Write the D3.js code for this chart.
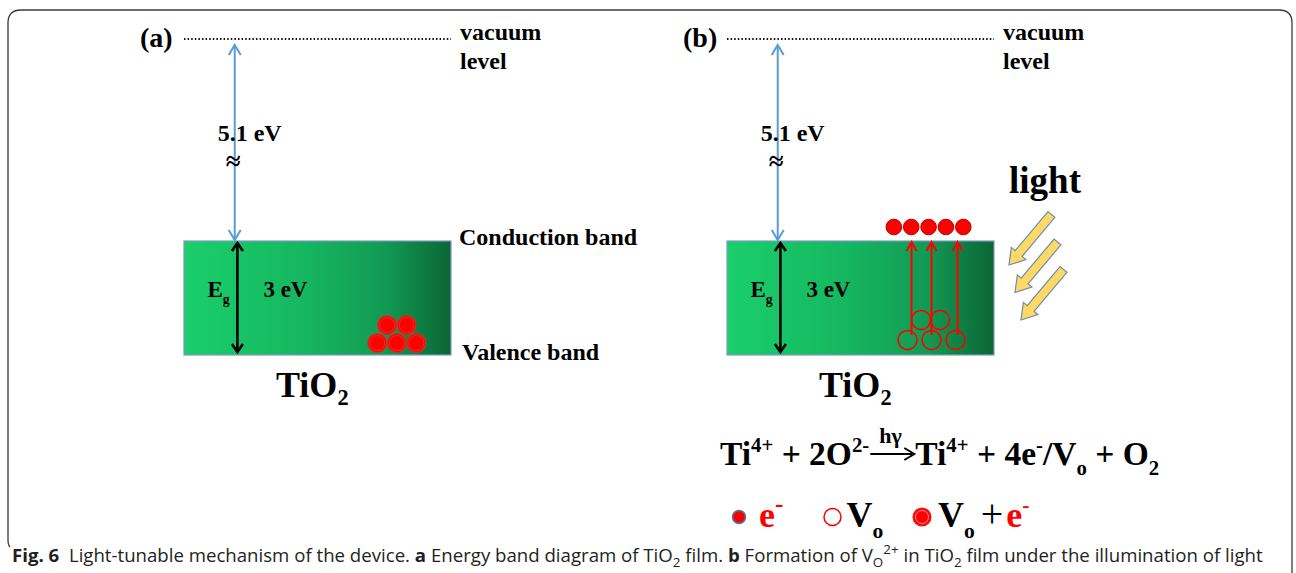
<!DOCTYPE html>
<html><head><meta charset="utf-8">
<script src="https://cdn.jsdelivr.net/npm/d3@7"></script>
<style>body{margin:0;background:#fff}svg{display:block}text{white-space:pre}</style>
</head><body><svg id="c" width="1296" height="573"></svg>
<script>
// ---------------- data ----------------
const panels = ["(a)", "(b)"];
const energyLevels = [0, -5.1, -8.1];           // vacuum, conduction band, valence band (eV)
const vacuumLabel = ["vacuum", "level"];
const bandLabels = ["Conduction band", "Valence band"];
const workFunctionLabel = "5.1 eV";
const bandGapLabel = "3 eV";
const materialLabel = "TiO";
const lightLabel = "light";
const clusterRows = [2, 3];                      // stacked circles: top row, bottom row
const electronsB = [1, 2, 3, 4, 5];              // excited electrons in (b)
const excitedFrom = [0, 1, 2];                   // bottom-row vacancies with arrows
const lightRays = [0, 1, 2];
const eqLeft = [["Ti"], ["4+", "sup"], [" + 2O"], ["2-", "sup"]];
const eqRight = [["Ti"], ["4+", "sup"], [" + 4e"], ["-", "sup"], ["/V"], ["o", "sub"], [" + O"], ["2", "sub"]];
const eqArrowLabel = "h\u03b3";
const legendItems = ["e", "Vo", "Vo+e"];
const caption = [
  ["Fig. 6", null, "bold"], ["  Light-tunable mechanism of the device. "], ["a", null, "bold"],
  [" Energy band diagram of TiO"], ["2", "sub"], [" film. "], ["b", null, "bold"],
  [" Formation of V"], ["O", "sub"], ["2+", "sup"], [" in TiO"], ["2", "sub"],
  [" film under the illumination of light"]
];

// ---------------- setup ----------------
const svg = d3.select("#c");
const SERIF = "'Liberation Serif','Times New Roman',serif";
const defs = svg.append("defs");
const grad = defs.append("linearGradient").attr("id", "g").attr("x1", 0).attr("x2", 1).attr("y1", 0).attr("y2", 0);
[[0, "#1ACF6C"], [0.45, "#16B660"], [0.75, "#129A54"], [1, "#0B6634"]].forEach(([o, c]) =>
  grad.append("stop").attr("offset", o).attr("stop-color", c));

// energy scale (piecewise, broken between vacuum and conduction band)
const yE = d3.scaleLinear().domain(energyLevels).range([39, 241, 355]);

// rich text helper
function rich(g, x, y, parts, size, opts = {}) {
  const t = g.append("text").attr("x", x).attr("y", y)
    .attr("font-family", opts.family || SERIF).attr("font-size", size)
    .attr("font-weight", opts.weight || "bold").attr("fill", opts.fill || "#000");
  let cur = 0;
  parts.forEach(p => {
    const kind = p[1];
    const target = kind === "sub" ? size * (opts.subShift || 0.28) : kind === "sup" ? -size * (opts.supShift || 0.42) : 0;
    const ts = t.append("tspan").text(p[0]).attr("dy", target - cur);
    cur = target;
    if (kind) ts.attr("font-size", size * (opts.scriptScale || 0.62));
    if (p[2]) ts.attr("font-weight", p[2]);
    if (p[3]) ts.attr("fill", p[3]);
    if (p[4]) ts.attr("dx", p[4]);
    if (p[5]) ts.attr("font-size", p[5]);
  });
  return t;
}
function chevron(g, x, y, dir, hw, len, color, sw) {
  g.append("path").attr("d", `M${x - hw},${y - dir * len}L${x},${y}L${x + hw},${y - dir * len}`)
    .attr("fill", "none").attr("stroke", color).attr("stroke-width", sw)
    .attr("stroke-linejoin", "miter");
}

// frame
svg.append("path")
  .attr("d", "M10,547 Q8,545 8,540 L8,23 Q8,10 21,10 L1279,10 Q1292,10 1292,23 L1292,573")
  .attr("fill", "none").attr("stroke", "#3a3a3a").attr("stroke-width", 1.3);

// ---------------- panels ----------------
const panelX = d3.scalePoint().domain(panels).range([184, 727]);
const boxW = 267;

panels.forEach((p, pi) => {
  const x0 = panelX(p);
  const g = svg.append("g");
  const xB = d3.scaleLinear().domain([0, 1]).range([x0, x0 + boxW]);

  g.append("text").attr("x", x0 - 44).attr("y", 47).text(p)
    .attr("font-family", SERIF).attr("font-weight", "bold").attr("font-size", 28);
  g.append("line").attr("x1", x0).attr("x2", x0 + boxW).attr("y1", yE(0)).attr("y2", yE(0))
    .attr("stroke", "#111").attr("stroke-width", 2).attr("stroke-dasharray", "1.5,2.1");
  vacuumLabel.forEach((s, i) => g.append("text").attr("x", x0 + boxW + 9).attr("y", 40 + i * 29).text(s)
    .attr("font-family", SERIF).attr("font-weight", "bold").attr("font-size", 24));

  g.append("rect").attr("x", x0).attr("y", yE(-5.1)).attr("width", boxW).attr("height", yE(-8.1) - yE(-5.1))
    .attr("fill", "url(#g)").attr("stroke", "#7C9CBF").attr("stroke-width", 1.2);

  const ax = xB(0.19);
  g.append("line").attr("x1", ax).attr("x2", ax).attr("y1", yE(0) + 6).attr("y2", yE(-5.1) - 1)
    .attr("stroke", "#5B9BD5").attr("stroke-width", 2);
  chevron(g, ax, yE(0) + 6, -1, 6, 10, "#5B9BD5", 2);
  chevron(g, ax, yE(-5.1) - 1, 1, 6, 10, "#5B9BD5", 2);
  g.append("text").attr("x", ax - 17).attr("y", 141).text(workFunctionLabel)
    .attr("font-family", SERIF).attr("font-weight", "bold").attr("font-size", 24);
  g.append("text").attr("x", ax - 9).attr("y", 170).text("\u2248")
    .attr("font-family", SERIF).attr("font-weight", "bold").attr("font-size", 27);

  const bx = xB(0.2);
  g.append("line").attr("x1", bx).attr("x2", bx).attr("y1", yE(-5.1) + 2).attr("y2", yE(-8.1) - 3)
    .attr("stroke", "#000").attr("stroke-width", 2.6);
  chevron(g, bx, yE(-5.1) + 2, -1, 5.5, 8, "#000", 2.6);
  chevron(g, bx, yE(-8.1) - 3, 1, 5.5, 8, "#000", 2.6);
  rich(g, bx - 30, 297, [["E"], ["g", "sub"]], 23, { subShift: 0.3, scriptScale: 0.6 });
  g.append("text").attr("x", bx + 26).attr("y", 297).text(bandGapLabel)
    .attr("font-family", SERIF).attr("font-weight", "bold").attr("font-size", 23);

  rich(g, x0 + 92, 397, [[materialLabel], ["2", "sub"]], 36, { subShift: 0.22, scriptScale: 0.62 });

  if (pi === 0) {
    bandLabels.forEach((s, i) => g.append("text").attr("x", x0 + boxW + 8 + i * 3).attr("y", [245, 360][i]).text(s)
      .attr("font-family", SERIF).attr("font-weight", "bold").attr("font-size", 24));
    const r = 9.5, cx = xB(0.797), yB = yE(-8.1) - 12, dy = 18;
    clusterRows.forEach((n, ri) => {
      const xs = d3.range(n).map(k => cx + (k - (n - 1) / 2) * 19.5);
      xs.forEach(xx => {
        g.append("circle").attr("cx", xx).attr("cy", yB - (clusterRows.length - 1 - ri) * dy).attr("r", r)
          .attr("fill", "#FF0000").attr("stroke", "#C0392B").attr("stroke-width", 1.2);
        g.append("circle").attr("cx", xx).attr("cy", yB - (clusterRows.length - 1 - ri) * dy).attr("r", r - 2)
          .attr("fill", "none").attr("stroke", "#E23A2A").attr("stroke-width", 0.7);
      });
    });
  } else {
    const r = 9.5, cx = xB(0.766), yB = yE(-8.1) - 15;
    const spacing = [19, 24];
    clusterRows.forEach((n, ri) => {
      d3.range(n).forEach(k => {
        const xx = cx + (k - (n - 1) / 2) * spacing[ri] + (ri === 0 ? -1 : 0);
        g.append("circle").attr("cx", xx).attr("cy", yB - (clusterRows.length - 1 - ri) * 20).attr("r", r)
          .attr("fill", "none").attr("stroke", "#FF0000").attr("stroke-width", 1.6);
      });
    });
    excitedFrom.forEach(k => {
      const xx = cx + (k - 1) * 24 + (k === 0 ? 4 : k === 2 ? 2 : 0);
      g.append("line").attr("x1", xx).attr("x2", xx).attr("y1", yB - 5).attr("y2", yE(-5.1) + 1)
        .attr("stroke", "#FF0000").attr("stroke-width", 2);
      chevron(g, xx, yE(-5.1) + 1, -1, 5, 9, "#FF0000", 2);
    });
    const ex = d3.scalePoint().domain(electronsB).range([xB(0.625), xB(0.885)]);
    electronsB.forEach(e => g.append("circle").attr("cx", ex(e)).attr("cy", yE(-5.1) - 14).attr("r", 7.8)
      .attr("fill", "#FF0000").attr("stroke", "#C00000").attr("stroke-width", 1));

    g.append("text").attr("x", x0 + boxW + 15).attr("y", 193).text(lightLabel)
      .attr("font-family", SERIF).attr("font-weight", "bold").attr("font-size", 37);
    const L = 66, sw = 4.5, hw = 9.5, hl = 15;
    const ang = Math.atan2(50, -42);
    lightRays.forEach(i => {
      const hx = x0 + boxW + 15 + i * 6, hy = 265 + i * 27.5;
      const ux = Math.cos(ang), uy = Math.sin(ang), px = -uy, py = ux;
      const tx = hx - ux * L, ty = hy - uy * L;
      const bx2 = hx - ux * hl, by2 = hy - uy * hl;
      const pts = [
        [tx + px * sw, ty + py * sw], [bx2 + px * sw, by2 + py * sw], [bx2 + px * hw, by2 + py * hw],
        [hx, hy], [bx2 - px * hw, by2 - py * hw], [bx2 - px * sw, by2 - py * sw], [tx - px * sw, ty - py * sw]
      ];
      g.append("path").attr("d", "M" + pts.map(q => q.join(",")).join("L") + "Z")
        .attr("fill", "#FFD966").attr("stroke", "#6A8CAF").attr("stroke-width", 1.2).attr("stroke-linejoin", "miter");
    });
  }
});

// ---------------- equation ----------------
const eq = svg.append("g");
const eqY = 465, eqSize = 33.5;
const left = rich(eq, 720, eqY, eqLeft, eqSize, { supShift: 0.38, scriptScale: 0.62 });
const lw = left.node().getBBox();
const arX0 = lw.x + lw.width + 1, arX1 = arX0 + 44, arY = 454;
eq.append("line").attr("x1", arX0).attr("x2", arX1 - 2).attr("y1", arY).attr("y2", arY).attr("stroke", "#000").attr("stroke-width", 2);
eq.append("path").attr("d", `M${arX1 - 10},${arY - 6}L${arX1},${arY}L${arX1 - 10},${arY + 6}`)
  .attr("fill", "none").attr("stroke", "#000").attr("stroke-width", 2);
eq.append("text").attr("x", arX0 + 9).attr("y", 443).text(eqArrowLabel)
  .attr("font-family", SERIF).attr("font-weight", "bold").attr("font-size", 22);
rich(eq, arX1 + 1, eqY, eqRight, eqSize, { supShift: 0.38, scriptScale: 0.62, subShift: 0.3 });

// ---------------- legend ----------------
const lg = svg.append("g");
const lgY = 517, lgBase = 527, lgX = d3.scalePoint().domain(legendItems).range([739, 922]);
lg.append("circle").attr("cx", lgX("e")).attr("cy", lgY).attr("r", 6.5).attr("fill", "#FF0000")
  .attr("stroke", "#4F78A8").attr("stroke-width", 1.5);
rich(lg, lgX("e") + 20, lgBase, [["e", null, null, "#FF0000"], ["-", "sup", null, "#FF0000"]], 36, { supShift: 0.42, scriptScale: 0.7 });
lg.append("circle").attr("cx", lgX("Vo") + 2).attr("cy", lgY).attr("r", 8.5).attr("fill", "#fff")
  .attr("stroke", "#FF0000").attr("stroke-width", 1.5);
rich(lg, lgX("Vo") + 16, lgBase, [["V"], ["o", "sub"]], 36, { subShift: 0.3, scriptScale: 0.6 });
lg.append("circle").attr("cx", lgX("Vo+e")).attr("cy", lgY).attr("r", 9).attr("fill", "#FF0000")
  .attr("stroke", "#E02020").attr("stroke-width", 1.2);
lg.append("circle").attr("cx", lgX("Vo+e")).attr("cy", lgY).attr("r", 6.5).attr("fill", "#FF0000")
  .attr("stroke", "#FFB0B0").attr("stroke-width", 0.8);
rich(lg, lgX("Vo+e") + 16, lgBase,
  [["V"], ["o", "sub"], ["+", null, "normal", "#000", 6, 40], ["e", null, null, "#FF0000", 3], ["-", "sup", null, "#FF0000"]], 36,
  { subShift: 0.3, supShift: 0.42, scriptScale: 0.6 });

// ---------------- caption ----------------
const cap = rich(svg, 12, 562, caption, 16, { family: "'Open Sans','Noto Sans',sans-serif", weight: "normal", subShift: 0.25, supShift: 0.45, scriptScale: 0.72 });
const cw = cap.node().getComputedTextLength();
const target = 1263 - 12;
if (cw > 0) {
  const s = 16 * target / cw;
  cap.attr("font-size", s);
  let cur = 0;
  cap.selectAll("tspan").each(function (d, i) {
    const kind = caption[i][1];
    const tgt = kind === "sub" ? s * 0.25 : kind === "sup" ? -s * 0.45 : 0;
    d3.select(this).attr("dy", tgt - cur);
    if (kind) d3.select(this).attr("font-size", s * 0.72);
    cur = tgt;
  });
}
cap.selectAll("tspan").attr("fill", "#231F20");
</script></body></html>
